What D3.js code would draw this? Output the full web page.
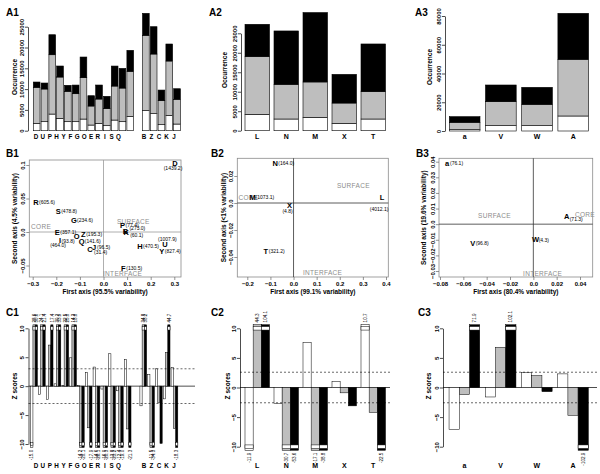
<!DOCTYPE html>
<html>
<head>
<meta charset="utf-8">
<script src="https://cdn.jsdelivr.net/npm/d3@7"></script>
<style>
  body { margin: 0; background: #fff; }
  svg { font-family: 'Liberation Sans', Arial, sans-serif; }
  .axis text { font-size: 6px; font-weight: bold; fill: #000; }
  .axis path, .axis line { stroke: #000; stroke-width: 0.7; }
  .bplot .axis path { stroke: none; }
  .bplot .axis line { stroke: #666; }
  .panel-title { font-size: 10px; font-weight: bold; }
  .ax-title { font-size: 6.5px; font-weight: bold; }
  .cat { font-size: 7px; font-weight: bold; }
  .cat.small { font-size: 6.3px; }
  .pt { font-size: 7.5px; font-weight: bold; }
  .chi { font-size: 5px; }
  .region { font-size: 6.5px; fill: #8c8c8c; letter-spacing: 0.3px; }
  .zval { font-size: 4.6px; }
</style>
</head>
<body>
<script>
var svg = d3.select('body').append('svg').attr('width', 600).attr('height', 474)

var seriesKeys = ['white', 'grey', 'black']
var fills = { white: '#ffffff', grey: '#bebebe', black: '#000000' }

// ---- A: occurrences (stack segments: white, grey, black) ----
var a1Categories = ['D', 'U', 'P', 'H', 'Y', 'F', 'G', 'O', 'E', 'R', 'I', 'S', 'Q', 'B', 'Z', 'C', 'K', 'J']
var a1White = [1760, 2160, 4000, 2960, 2160, 2160, 2800, 1360, 1760, 1200, 2560, 2160, 3450, 4810, 4090, 1440, 3690, 1600]
var a1Grey = [8660, 7860, 14260, 9940, 7300, 6730, 9940, 4570, 5850, 4090, 8170, 8090, 10820, 18110, 14340, 5770, 13060, 5930]
var a1Black = [1280, 1440, 4810, 2650, 1450, 2080, 4970, 2480, 3370, 2970, 4810, 4730, 5050, 5290, 6570, 2560, 4090, 2560]
var a1Ticks = [0, 5000, 10000, 15000, 20000, 25000]

var a2Categories = ['L', 'N', 'M', 'X', 'T']
var a2White = [4200, 3000, 3430, 1880, 3000]
var a2Grey = [14810, 8900, 9080, 5220, 7020]
var a2Black = [8300, 13700, 17810, 7360, 12240]
var a2Ticks = [0, 5000, 10000, 15000, 20000, 25000]

var a3Categories = ['a', 'V', 'W', 'A']
var a3White = [930, 3710, 3710, 10440]
var a3Grey = [5100, 16700, 14840, 39420]
var a3Black = [3940, 11590, 11830, 32000]
var a3Ticks = [0, 20000, 40000, 60000, 80000]

// ---- B: correspondence analysis coordinates ----
var b1Labels = ['D', 'R', 'S', 'G', 'E', 'O', 'Z', 'Q', 'I', 'J', 'C', 'P', 'B', 'K', 'H', 'U', 'Y', 'F']
var b1X = [0.303, -0.286, -0.192, -0.125, -0.196, -0.114, -0.086, -0.092, -0.184, -0.040, -0.057, 0.081, 0.093, 0.096, 0.155, 0.260, 0.247, 0.084]
var b1Y = [0.103, 0.044, 0.031, 0.018, 0.000, -0.007, -0.0035, -0.0145, -0.012, -0.023, -0.026, 0.0104, 0.001, -0.001, -0.022, -0.018, -0.029, -0.054]
var b1Chi = ['1439.2', '605.6', '478.8', '234.6', '357.1', '93.8', '195.3', '141.6', '464.0', '96.5', '31.4', '77.4', '273.0', '60.1', '470.5', '1007.9', '827.4', '130.5']
var b1XTicks = [-0.3, -0.2, -0.1, 0, 0.1, 0.2, 0.3]
var b1YTicks = [-0.05, 0, 0.05, 0.1]

var b2Labels = ['N', 'M', 'X', 'L', 'T']
var b2X = [-0.079, -0.177, -0.017, 0.383, -0.120]
var b2Y = [0.0294, 0.004, -0.002, 0.004, -0.036]
var b2Chi = ['164.0', '1073.1', '4.8', '4012.1', '321.2']
var b2XTicks = [-0.2, -0.1, 0, 0.1, 0.2, 0.3, 0.4]
var b2YTicks = [-0.04, -0.02, 0, 0.02]

var b3Labels = ['a', 'V', 'W', 'A']
var b3X = [-0.074, -0.052, 0.002, 0.0286]
var b3Y = [0.039, -0.0122, -0.010, 0.0053]
var b3Chi = ['76.1', '96.8', '4.3', '71.3']
var b3XTicks = [-0.08, -0.06, -0.04, -0.02, 0, 0.02, 0.04]
var b3YTicks = [-0.03, -0.02, -0.01, 0, 0.01, 0.02, 0.03, 0.04]

// ---- C: z scores (white, grey, black) ----
var c1White = [-15.0, -1.4, -2.3, 0.4, 0.1, 4.9, 0.1, 2.4, 3.3, -0.5, 5.6, -0.8, 4.6, -3.4, 2.0, 3.0, -2.2, 3.2]
var c1Grey = [28.6, 24.1, 7.1, 30.2, 22.5, 14.3, -14.2, -7.2, -14.6, -16.0, -13.8, -12.4, -7.4, 34.8, -11.5, -2.8, 5.8, -7.3]
var c1Black = [30.6, 21.4, 17.4, 33.9, 25.8, 18.8, -28.1, -17.9, -26.1, -20.3, -23.2, -19.0, -21.3, 38.2, -34.3, -9.9, 44.7, -18.3]

var c2White = [-11.9, -2.7, 7.6, 1.0, 10.7]
var c2Grey = [44.3, -30.7, -17.1, -0.9, -4.2]
var c2Black = [104.1, -53.6, -38.8, -3.1, -22.5]

var c3White = [-7.1, -1.6, 2.5, 2.3]
var c3Grey = [-1.2, 6.8, 2.0, -4.7]
var c3Black = [71.9, 102.1, -0.7, -102.9]

var zTicks = [-10, -5, 0, 5, 10]

// A1/C1 have a blank slot between the two letter groups
var a1Domain = a1Categories.slice(0, 13).concat(['_gap']).concat(a1Categories.slice(13))
var firstGroupX = d3.scaleLinear().domain([0, 12]).range([36, 118.5])
var secondGroupX = d3.scaleLinear().domain([13, 17]).range([144, 174])
function a1LabelX(d, i) {
  return i < 13 ? firstGroupX(i) : secondGroupX(i)
}

function rows(categories, white, grey, black) {
  return categories.map((c, i) => ({ cat: c, white: white[i], grey: grey[i], black: black[i] }))
}

function panelTitle(text, x, y) {
  svg.append('text').attr('class', 'panel-title').attr('x', x).attr('y', y).text(text)
}

function rotatedTitle(text, x, y) {
  svg.append('text')
    .attr('class', 'ax-title')
    .attr('transform', `translate(${x},${y}) rotate(-90)`)
    .attr('text-anchor', 'middle')
    .attr('dy', '0.35em')
    .text(text)
}

function leftAxis(parent, scale, x, ticks, format, gap) {
  let g = parent
    .append('g')
    .attr('class', 'axis')
    .attr('transform', `translate(${x},0)`)
    .call(d3.axisLeft(scale).tickValues(ticks).tickSize(3).tickSizeOuter(0).tickFormat(format))
  g.selectAll('text')
    .attr('transform', 'rotate(-90)')
    .attr('x', 0)
    .attr('y', -(gap || 5))
    .attr('dy', 0)
    .style('text-anchor', 'middle')
  return g
}

function categoryLabels(cats, xFn, y, small) {
  svg
    .append('g')
    .selectAll('text')
    .data(cats)
    .enter()
    .append('text')
    .attr('class', small ? 'cat small' : 'cat')
    .attr('x', xFn)
    .attr('y', y)
    .attr('text-anchor', 'middle')
    .text(d => d)
}

/* Stacked occurrence bars */
function drawStacked(o) {
  let data = rows(o.categories, o.white, o.grey, o.black)
  let stacked = d3.stack().keys(seriesKeys)(data)
  let x = d3.scaleBand().domain(o.domain).range(o.xRange).paddingInner(o.pad).paddingOuter(o.pad / 2)
  let y = d3.scaleLinear().domain([0, o.yMax]).range(o.yRange)

  svg
    .append('g')
    .selectAll('g')
    .data(stacked)
    .enter()
    .append('g')
    .attr('fill', d => fills[d.key])
    .selectAll('rect')
    .data(d => d)
    .enter()
    .append('rect')
    .attr('x', d => x(d.data.cat))
    .attr('width', x.bandwidth())
    .attr('y', d => y(d[1]))
    .attr('height', d => y(d[0]) - y(d[1]))
    .attr('stroke', '#000')
    .attr('stroke-width', 0.6)

  leftAxis(svg, y, o.axisX, o.ticks, d3.format('d'), 4.5)
  rotatedTitle('Occurrence', o.titleX, o.titleY)
  categoryLabels(o.categories, o.labelX || (d => x(d) + x.bandwidth() / 2), 138.5, !!o.labelX)
}

/* Correspondence analysis biplots */
var chiPlace = {
  right: { dx: 3, dy: 0, anchor: 'start' },
  below: { dx: -2, dy: 5.5, anchor: 'middle' },
  belowFar: { dx: -3, dy: 12, anchor: 'middle' },
  belowLeft: { dx: -2, dy: 4.5, anchor: 'end' },
  belowRight: { dx: 3, dy: 3.5, anchor: 'start' },
  rightDown: { dx: 4, dy: 3, anchor: 'start' },
  rightUp: { dx: 4, dy: -2.7, anchor: 'start' },
  above: { dx: 2.5, dy: -5, anchor: 'middle' }
}

function drawBiplot(o) {
  let x = d3.scaleLinear().domain(o.xDomain).range(o.xRange)
  let y = d3.scaleLinear().domain(o.yDomain).range(o.yRange)
  let g = svg.append('g').attr('class', 'bplot')
  let [bx0, bx1, by0, by1] = o.box

  g.append('rect')
    .attr('x', bx0).attr('y', by0)
    .attr('width', bx1 - bx0).attr('height', by1 - by0)
    .attr('fill', 'none').attr('stroke', '#8a8a8a').attr('stroke-width', 0.8)

  g.append('line')
    .attr('x1', x(0)).attr('x2', x(0)).attr('y1', by0).attr('y2', by1)
    .attr('stroke', o.crossColor).attr('stroke-width', 0.8)
  g.append('line')
    .attr('x1', bx0).attr('x2', bx1).attr('y1', y(0)).attr('y2', y(0))
    .attr('stroke', o.crossColor).attr('stroke-width', 0.8)

  let xAxis = g
    .append('g')
    .attr('class', 'axis')
    .attr('transform', `translate(0,${by1})`)
    .call(d3.axisBottom(x).tickValues(o.xTicks).tickSize(3).tickSizeOuter(0).tickFormat(o.xFormat))
  xAxis.selectAll('text').attr('y', 4.5)
  leftAxis(g, y, bx0, o.yTicks, o.yFormat, 4.5)

  g.selectAll('text.region')
    .data(o.regions)
    .enter()
    .append('text')
    .attr('class', 'region')
    .attr('x', d => x(d.x))
    .attr('y', d => y(d.y))
    .attr('dy', '0.35em')
    .text(d => d.name)

  let pts = o.labels.map((l, i) => ({ label: l, x: o.xs[i], y: o.ys[i], chi: o.chi[i], place: chiPlace[o.place[l] || 'right'] }))

  g.selectAll('text.pt')
    .data(pts)
    .enter()
    .append('text')
    .attr('class', 'pt')
    .attr('x', d => x(d.x))
    .attr('y', d => y(d.y))
    .attr('dy', '0.35em')
    .attr('text-anchor', 'middle')
    .text(d => d.label)

  g.selectAll('text.chi')
    .data(pts)
    .enter()
    .append('text')
    .attr('class', 'chi')
    .attr('x', d => x(d.x) + d.place.dx)
    .attr('y', d => y(d.y) + d.place.dy)
    .attr('dy', '0.35em')
    .attr('text-anchor', d => d.place.anchor)
    .text(d => `(${d.chi})`)

  let cx = (bx0 + bx1) / 2
  svg.append('text').attr('class', 'ax-title').attr('x', cx).attr('y', 294).attr('text-anchor', 'middle').text(o.xTitle)
  rotatedTitle(o.yTitle, o.yTitleX, (by0 + by1) / 2)
}

/* Z score bars, cut at +/-10 */
function drawZ(o) {
  let x0 = d3.scaleBand().domain(o.domain).range(o.xRange).paddingInner(o.pad).paddingOuter(o.pad / 2)
  let x1 = d3.scaleBand().domain(seriesKeys).range([0, x0.bandwidth()])
  let y = d3.scaleLinear().domain([-10, 10]).range(o.yRange)
  let g = svg.append('g')

  let bars = []
  rows(o.categories, o.white, o.grey, o.black).forEach(r => {
    seriesKeys.forEach(k => bars.push({ cat: r.cat, key: k, value: r[k] }))
  })
  let shown = v => (Math.abs(v) > 10 ? Math.sign(v) * 10.6 : v)
  let clipped = bars.filter(d => Math.abs(d.value) > 10)
  let bx = d => x0(d.cat) + x1(d.key)

  g.append('line')
    .attr('x1', o.axisX).attr('x2', o.right).attr('y1', y(0)).attr('y2', y(0))
    .attr('stroke', '#000').attr('stroke-width', 0.7)

  g.selectAll('rect.bar')
    .data(bars)
    .enter()
    .append('rect')
    .attr('x', bx)
    .attr('width', x1.bandwidth())
    .attr('y', d => y(Math.max(0, shown(d.value))))
    .attr('height', d => Math.abs(y(shown(d.value)) - y(0)))
    .attr('fill', d => fills[d.key])
    .attr('stroke', '#000')
    .attr('stroke-width', 0.5)

  g.selectAll('rect.cut')
    .data(clipped)
    .enter()
    .append('rect')
    .attr('x', bx)
    .attr('width', x1.bandwidth())
    .attr('y', d => y(d.value > 0 ? 10.3 : -9.7))
    .attr('height', y(9.7) - y(10.3))
    .attr('fill', '#fff')
    .attr('stroke', '#000')
    .attr('stroke-width', 0.5)

  g.selectAll('text.zval')
    .data(clipped)
    .enter()
    .append('text')
    .attr('class', 'zval')
    .attr('transform', d => `translate(${bx(d) + x1.bandwidth() / 2},${y(d.value > 0 ? 11 : -11)}) rotate(-90)`)
    .attr('dy', '0.35em')
    .attr('text-anchor', d => (d.value > 0 ? 'start' : 'end'))
    .text(d => d.value.toFixed(1))

  g.selectAll('line.thr')
    .data([o.threshold, -o.threshold])
    .enter()
    .append('line')
    .attr('x1', o.axisX).attr('x2', o.right)
    .attr('y1', d => y(d)).attr('y2', d => y(d))
    .attr('stroke', '#000').attr('stroke-width', 0.6).attr('stroke-dasharray', '2,2')

  leftAxis(svg, y, o.axisX, zTicks, d3.format('d'), 4.5)
  rotatedTitle('Z scores', o.titleX, 386)
  categoryLabels(o.categories, o.labelX || (d => x0(d) + x0.bandwidth() / 2), 467.5, !!o.labelX)
}

/* Row A */
panelTitle('A1', 6, 16)
drawStacked({
  categories: a1Categories, domain: a1Domain, white: a1White, grey: a1Grey, black: a1Black,
  xRange: [32.75, 180.95], pad: 0.14, yMax: 25000, yRange: [130.7, 26.7],
  ticks: a1Ticks, axisX: 28, titleX: 15, titleY: 77, labelX: a1LabelX
})
panelTitle('A2', 209, 16)
drawStacked({
  categories: a2Categories, domain: a2Categories, white: a2White, grey: a2Grey, black: a2Black,
  xRange: [242.75, 387.75], pad: 0.155, yMax: 25000, yRange: [130.7, 33.3],
  ticks: a2Ticks, axisX: 241, titleX: 225, titleY: 70
})
panelTitle('A3', 415, 16)
drawStacked({
  categories: a3Categories, domain: a3Categories, white: a3White, grey: a3Grey, black: a3Black,
  xRange: [446.55, 591.35], pad: 0.152, yMax: 80000, yRange: [131, 16],
  ticks: a3Ticks, axisX: 445, titleX: 430, titleY: 67
})

/* Row B */
var fmt1 = d => (d === 0 ? '0.0' : d3.format('.1f')(d))
var fmt2 = d => (d === 0 ? '0.0' : d3.format('.2f')(d))
var fmtB1y = d => (d === 0 ? '0.0' : d === 0.1 ? '0.1' : d3.format('.2f')(d))

panelTitle('B1', 6, 157)
drawBiplot({
  xDomain: [-0.3, 0.3], xRange: [32.7, 174.3], yDomain: [-0.05, 0.1], yRange: [265.5, 165],
  box: [29.3, 181, 160, 277], crossColor: '#9a9a9a',
  xTicks: b1XTicks, yTicks: b1YTicks, xFormat: fmt1, yFormat: fmtB1y,
  labels: b1Labels, xs: b1X, ys: b1Y, chi: b1Chi,
  place: { D: 'below', I: 'below', O: 'belowLeft', C: 'rightDown', U: 'above', B: 'rightUp', K: 'rightDown' },
  regions: [
    { name: 'CORE', x: -0.307, y: 0.008 },
    { name: 'SURFACE', x: 0.057, y: 0.0154 },
    { name: 'INTERFACE', x: -0.002, y: -0.0627 }
  ],
  xTitle: 'First axis (95.5% variability)', yTitle: 'Second axis (4.5% variability)', yTitleX: 15
})

panelTitle('B2', 211, 157)
drawBiplot({
  xDomain: [-0.2, 0.4], xRange: [247.3, 386], yDomain: [-0.04, 0.02], yRange: [257, 176],
  box: [237.3, 388.3, 158.3, 277], crossColor: '#333',
  xTicks: b2XTicks, yTicks: b2YTicks, xFormat: fmt1, yFormat: fmt2,
  labels: b2Labels, xs: b2X, ys: b2Y, chi: b2Chi,
  place: { X: 'below', L: 'belowFar' },
  regions: [
    { name: 'CORE', x: -0.238, y: 0.004 },
    { name: 'SURFACE', x: 0.188, y: 0.0131 },
    { name: 'INTERFACE', x: 0.041, y: -0.052 }
  ],
  xTitle: 'First axis (99.1% variability)', yTitle: 'Second axis (<1% variability)', yTitleX: 224
})

panelTitle('B3', 416, 157)
drawBiplot({
  xDomain: [-0.08, 0.04], xRange: [440, 580], yDomain: [-0.03, 0.04], yRange: [271, 161.7],
  box: [439, 592.7, 158.3, 277], crossColor: '#333',
  xTicks: b3XTicks, yTicks: b3YTicks, xFormat: fmt2, yFormat: fmt2,
  labels: b3Labels, xs: b3X, ys: b3Y, chi: b3Chi,
  place: { A: 'belowRight' },
  regions: [
    { name: 'SURFACE', x: -0.0474, y: 0.0053 },
    { name: 'CORE', x: 0.0357, y: 0.0062 },
    { name: 'INTERFACE', x: -0.0088, y: -0.0319 }
  ],
  xTitle: 'First axis (80.4% variability)', yTitle: 'Second axis (19.6% variability)', yTitleX: 424
})

/* Row C */
panelTitle('C1', 6, 316)
drawZ({
  categories: a1Categories, domain: a1Domain, white: c1White, grey: c1Grey, black: c1Black,
  xRange: [30.15, 178.35], pad: 0.14, yRange: [444, 328.3],
  axisX: 28.5, right: 195, threshold: 3, titleX: 15, labelX: a1LabelX
})
panelTitle('C2', 211, 316)
drawZ({
  categories: a2Categories, domain: a2Categories, white: c2White, grey: c2Grey, black: c2Black,
  xRange: [242.75, 387.75], pad: 0.155, yRange: [446.7, 328.3],
  axisX: 240, right: 390, threshold: 2.58, titleX: 228
})
panelTitle('C3', 418, 316)
drawZ({
  categories: a3Categories, domain: a3Categories, white: c3White, grey: c3Grey, black: c3Black,
  xRange: [446.3, 591.1], pad: 0.152, yRange: [446.7, 328.3],
  axisX: 443, right: 597, threshold: 2.58, titleX: 429
})
</script>
</body>
</html>
